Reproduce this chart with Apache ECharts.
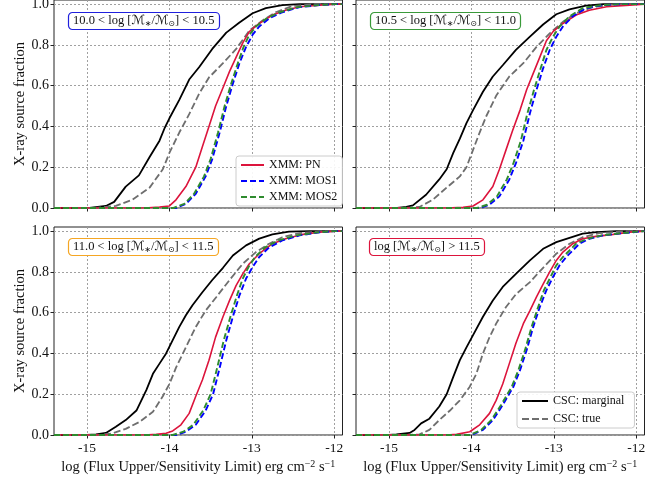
<!DOCTYPE html>
<html>
<head>
<meta charset="utf-8">
<script src="https://cdn.jsdelivr.net/npm/echarts@6/dist/echarts.min.js"></script>
<style>html,body{margin:0;padding:0;background:#fff;}#c{width:670px;height:479px;}</style>
</head>
<body>
<div id="c"></div>
<script>
// ---- data ----
const xTicks = [-15, -14, -13, -12];
const yTicks = [0, 0.2, 0.4, 0.6, 0.8, 1.0];
const seriesNames = ['CSC: marginal', 'CSC: true', 'XMM: PN', 'XMM: MOS1', 'XMM: MOS2'];
const panelLabels = [
  ['10.0', '10.5'],
  ['10.5', '11.0'],
  ['11.0', '11.5'],
  [null, '11.5']
];

// Panel 1: 10.0 < log M < 10.5
const p1Marginal = [[-15.4,0],[-14.97,0],[-14.77,0.01],[-14.67,0.03],[-14.53,0.105],[-14.37,0.16],[-14.24,0.25],[-14.12,0.33],[-14.06,0.39],[-14.0,0.44],[-13.88,0.53],[-13.76,0.63],[-13.64,0.69],[-13.48,0.78],[-13.31,0.86],[-13.15,0.91],[-12.99,0.955],[-12.83,0.98],[-12.63,0.995],[-12.42,1.0],[-11.9,1]];
const p1True = [[-15.4,0],[-14.9,0],[-14.65,0.01],[-14.45,0.04],[-14.24,0.1],[-14.08,0.19],[-14.0,0.27],[-13.88,0.37],[-13.76,0.46],[-13.64,0.56],[-13.52,0.64],[-13.35,0.71],[-13.19,0.78],[-13.03,0.87],[-12.87,0.92],[-12.71,0.96],[-12.51,0.99],[-12.22,1.0],[-11.9,1]];
const p1PN = [[-15.4,0],[-14.3,0],[-14.12,0.005],[-14.0,0.01],[-13.92,0.04],[-13.80,0.105],[-13.68,0.2],[-13.60,0.3],[-13.52,0.4],[-13.44,0.5],[-13.35,0.59],[-13.27,0.67],[-13.19,0.74],[-13.11,0.81],[-13.03,0.865],[-12.91,0.905],[-12.75,0.946],[-12.59,0.97],[-12.42,0.987],[-12.18,0.995],[-11.98,1.0],[-11.9,1]];
const p1MOS1 = [[-15.4,0],[-13.92,0],[-13.80,0.02],[-13.68,0.07],[-13.56,0.155],[-13.48,0.24],[-13.39,0.37],[-13.31,0.5],[-13.23,0.61],[-13.15,0.71],[-13.07,0.79],[-12.99,0.85],[-12.91,0.89],[-12.79,0.93],[-12.63,0.96],[-12.42,0.985],[-12.18,0.995],[-11.98,1.0],[-11.9,1]];
const p1MOS2 = [[-15.4,0],[-13.95,0],[-13.82,0.02],[-13.70,0.07],[-13.58,0.155],[-13.50,0.24],[-13.41,0.37],[-13.33,0.5],[-13.25,0.61],[-13.17,0.71],[-13.10,0.79],[-13.03,0.85],[-12.95,0.89],[-12.82,0.93],[-12.66,0.96],[-12.45,0.985],[-12.2,0.995],[-12.0,1.0],[-11.9,1]];

// Panel 2: 10.5 < log M < 11.0
const p2Marginal = [[-15.4,0],[-14.9,0],[-14.79,0.005],[-14.71,0.013],[-14.55,0.065],[-14.39,0.14],[-14.30,0.19],[-14.22,0.27],[-14.14,0.34],[-14.06,0.416],[-13.98,0.48],[-13.86,0.57],[-13.74,0.645],[-13.62,0.70],[-13.46,0.775],[-13.29,0.84],[-13.13,0.90],[-12.97,0.95],[-12.81,0.974],[-12.61,0.992],[-12.40,1.0],[-11.9,1]];
const p2True = [[-15.4,0],[-14.8,0],[-14.63,0.005],[-14.47,0.04],[-14.30,0.1],[-14.14,0.155],[-14.06,0.2],[-13.98,0.285],[-13.90,0.37],[-13.82,0.45],[-13.70,0.55],[-13.54,0.645],[-13.37,0.71],[-13.21,0.79],[-13.05,0.856],[-12.89,0.913],[-12.73,0.955],[-12.53,0.985],[-12.28,0.997],[-12.0,1.0],[-11.9,1]];
const p2PN = [[-15.4,0],[-14.3,0],[-14.10,0.003],[-13.98,0.01],[-13.86,0.04],[-13.74,0.105],[-13.66,0.19],[-13.58,0.285],[-13.50,0.38],[-13.41,0.48],[-13.33,0.58],[-13.25,0.66],[-13.17,0.74],[-13.09,0.82],[-13.01,0.865],[-12.89,0.905],[-12.73,0.946],[-12.57,0.97],[-12.36,0.987],[-12.08,0.995],[-11.9,1]];
const p2MOS1 = [[-15.4,0],[-13.90,0],[-13.78,0.016],[-13.66,0.057],[-13.54,0.14],[-13.46,0.22],[-13.37,0.33],[-13.29,0.465],[-13.21,0.58],[-13.13,0.685],[-13.05,0.775],[-12.97,0.84],[-12.89,0.89],[-12.77,0.94],[-12.61,0.98],[-12.40,0.995],[-12.16,1.0],[-11.9,1]];
const p2MOS2 = [[-15.4,0],[-13.93,0],[-13.81,0.016],[-13.69,0.057],[-13.57,0.14],[-13.49,0.22],[-13.40,0.33],[-13.32,0.465],[-13.24,0.58],[-13.16,0.685],[-13.09,0.775],[-13.01,0.84],[-12.93,0.89],[-12.81,0.94],[-12.65,0.98],[-12.43,0.995],[-12.19,1.0],[-11.9,1]];

// Panel 3: 11.0 < log M < 11.5
const p3Marginal = [[-15.4,0],[-15.0,0],[-14.89,0.003],[-14.77,0.01],[-14.65,0.04],[-14.53,0.073],[-14.40,0.12],[-14.28,0.22],[-14.20,0.30],[-14.12,0.35],[-14.04,0.40],[-13.96,0.465],[-13.88,0.53],[-13.80,0.587],[-13.72,0.636],[-13.60,0.70],[-13.48,0.76],[-13.35,0.82],[-13.23,0.88],[-13.07,0.93],[-12.91,0.963],[-12.75,0.984],[-12.55,0.997],[-12.3,1.0],[-11.9,1]];
const p3True = [[-15.4,0],[-14.85,0],[-14.69,0.008],[-14.53,0.03],[-14.36,0.065],[-14.20,0.114],[-14.08,0.19],[-14.00,0.25],[-13.92,0.33],[-13.80,0.43],[-13.68,0.53],[-13.56,0.61],[-13.43,0.677],[-13.27,0.76],[-13.11,0.84],[-12.95,0.897],[-12.79,0.938],[-12.63,0.97],[-12.42,0.99],[-12.18,0.998],[-11.9,1]];
const p3PN = [[-15.4,0],[-14.3,0],[-14.16,0.003],[-14.04,0.008],[-13.96,0.02],[-13.86,0.05],[-13.76,0.106],[-13.68,0.19],[-13.60,0.27],[-13.52,0.367],[-13.44,0.48],[-13.35,0.58],[-13.27,0.66],[-13.19,0.734],[-13.11,0.79],[-13.03,0.84],[-12.91,0.889],[-12.75,0.938],[-12.59,0.962],[-12.38,0.984],[-12.18,0.995],[-11.98,1.0],[-11.9,1]];
const p3MOS1 = [[-15.4,0],[-13.92,0],[-13.80,0.016],[-13.68,0.05],[-13.56,0.12],[-13.47,0.2],[-13.39,0.33],[-13.31,0.465],[-13.23,0.58],[-13.15,0.685],[-13.07,0.767],[-12.99,0.824],[-12.91,0.873],[-12.79,0.92],[-12.63,0.954],[-12.42,0.979],[-12.18,0.994],[-11.98,1.0],[-11.9,1]];
const p3MOS2 = [[-15.4,0],[-13.96,0],[-13.83,0.016],[-13.71,0.05],[-13.59,0.12],[-13.50,0.2],[-13.42,0.33],[-13.34,0.465],[-13.26,0.58],[-13.18,0.685],[-13.11,0.767],[-13.04,0.824],[-12.96,0.873],[-12.84,0.92],[-12.68,0.954],[-12.46,0.979],[-12.2,0.994],[-12.0,1.0],[-11.9,1]];

// Panel 4: log M > 11.5
const p4Marginal = [[-15.4,0],[-15.0,0],[-14.91,0.003],[-14.75,0.01],[-14.69,0.025],[-14.61,0.057],[-14.51,0.08],[-14.39,0.14],[-14.30,0.2],[-14.22,0.285],[-14.14,0.367],[-14.06,0.43],[-13.98,0.49],[-13.86,0.58],[-13.74,0.66],[-13.62,0.726],[-13.46,0.79],[-13.29,0.856],[-13.13,0.913],[-12.97,0.946],[-12.81,0.967],[-12.65,0.987],[-12.48,0.995],[-12.24,1.0],[-11.9,1]];
const p4True = [[-15.4,0],[-14.8,0],[-14.63,0.003],[-14.51,0.025],[-14.39,0.073],[-14.26,0.12],[-14.14,0.17],[-14.02,0.237],[-13.94,0.30],[-13.86,0.40],[-13.78,0.48],[-13.70,0.546],[-13.58,0.628],[-13.46,0.69],[-13.29,0.75],[-13.13,0.82],[-12.97,0.889],[-12.81,0.938],[-12.65,0.97],[-12.45,0.99],[-12.20,0.998],[-11.9,1]];
const p4PN = [[-15.4,0],[-14.3,0],[-14.18,0.003],[-14.02,0.016],[-13.90,0.05],[-13.78,0.106],[-13.70,0.17],[-13.62,0.25],[-13.54,0.35],[-13.46,0.45],[-13.37,0.546],[-13.29,0.61],[-13.21,0.677],[-13.13,0.74],[-13.05,0.8],[-12.97,0.856],[-12.89,0.897],[-12.77,0.938],[-12.65,0.962],[-12.49,0.974],[-12.28,0.984],[-12.08,0.995],[-11.9,1]];
const p4MOS1 = [[-15.4,0],[-14.0,0],[-13.86,0.025],[-13.74,0.073],[-13.62,0.147],[-13.49,0.237],[-13.41,0.318],[-13.33,0.416],[-13.25,0.53],[-13.17,0.628],[-13.09,0.71],[-13.01,0.775],[-12.93,0.832],[-12.85,0.873],[-12.77,0.905],[-12.69,0.938],[-12.57,0.962],[-12.40,0.979],[-12.16,0.99],[-11.95,0.998],[-11.9,1]];
const p4MOS2 = [[-15.4,0],[-14.02,0],[-13.88,0.025],[-13.76,0.073],[-13.64,0.147],[-13.51,0.237],[-13.43,0.318],[-13.35,0.416],[-13.27,0.53],[-13.19,0.628],[-13.12,0.71],[-13.04,0.775],[-12.97,0.832],[-12.89,0.873],[-12.81,0.905],[-12.73,0.938],[-12.60,0.962],[-12.42,0.979],[-12.18,0.99],[-11.96,0.998],[-11.9,1]];

const panels = [
  [p1Marginal, p1True, p1PN, p1MOS1, p1MOS2],
  [p2Marginal, p2True, p2PN, p2MOS1, p2MOS2],
  [p3Marginal, p3True, p3PN, p3MOS1, p3MOS2],
  [p4Marginal, p4True, p4PN, p4MOS1, p4MOS2]
];

// ---- styling ----
const FONT = '"Liberation Serif", "DejaVu Serif", serif';
const MFONT = '"DejaVu Sans", "DejaVu Serif", serif';
const lineStyles = [
  {color: '#000000', width: 1.8, type: 'solid'},
  {color: '#6e6e6e', width: 1.8, type: [7, 3]},
  {color: '#dc143c', width: 1.6, type: 'solid'},
  {color: '#0000ff', width: 1.9, type: [6, 3]},
  {color: '#2e8b2e', width: 1.9, type: [6, 3]}
];
const labelBorders = ['#2020dd', '#3a9a3a', '#f5a623', '#dc143c'];
const gridPos = [
  {left: 54, top: 0},
  {left: 356, top: 0},
  {left: 54, top: 227},
  {left: 356, top: 227}
];

const grids = gridPos.map(p => ({
  left: p.left, top: p.top, width: 288.5, height: 208,
  show: true, borderColor: '#222', borderWidth: 1, backgroundColor: 'transparent',
  containLabel: false, outerBoundsMode: 'none'
}));

const xAxes = gridPos.map((p, i) => ({
  type: 'value', gridIndex: i, min: -15.4, max: -11.9,
  axisLine: {show: false},
  axisTick: {show: true, inside: false, length: 3.5, lineStyle: {color: '#222', width: 1}, customValues: xTicks},
  axisLabel: {show: i >= 2, customValues: xTicks, margin: 6, color: '#111', fontFamily: FONT, fontSize: 13.5,
              formatter: v => String(v)},
  splitLine: {show: true, lineStyle: {color: '#a0a0a0', width: 1, type: [2, 2]}},
  name: i >= 2 ? 'log (Flux Upper/Sensitivity Limit) erg cm{sup|−2} s{sup|−1}' : '',
  nameLocation: 'middle', nameGap: 24,
  nameTextStyle: {color: '#111', fontFamily: FONT, fontSize: 14.5, lineHeight: 17,
    rich: {sup: {fontSize: 10, verticalAlign: 'top', lineHeight: 17, fontFamily: FONT, color: '#111'}}}
}));

const yAxes = gridPos.map((p, i) => ({
  type: 'value', gridIndex: i, min: 0, max: 1.02,
  axisLine: {show: false},
  axisTick: {show: true, inside: false, length: 3.5, lineStyle: {color: '#222', width: 1}, customValues: yTicks},
  axisLabel: {show: i % 2 === 0, customValues: yTicks, margin: 5, color: '#111', fontFamily: FONT, fontSize: 14,
              formatter: v => v.toFixed(1)},
  splitLine: {show: true, lineStyle: {color: '#a0a0a0', width: 1, type: [2, 2]}},
  name: i % 2 === 0 ? 'X-ray source fraction' : '',
  nameLocation: 'middle', nameRotate: 90, nameGap: 25,
  nameTextStyle: {color: '#111', fontFamily: FONT, fontSize: 14.5}
}));

const series = [];
panels.forEach((curves, pi) => {
  curves.forEach((data, si) => {
    series.push({
      type: 'line', name: seriesNames[si], xAxisIndex: pi, yAxisIndex: pi,
      data: data, symbol: 'none', showSymbol: false, smooth: false, animation: false,
      lineStyle: lineStyles[si], itemStyle: {color: lineStyles[si].color},
      z: 2 + si, silent: true, clip: true
    });
  });
});

const rich = {
  n: {fontFamily: FONT, fontSize: 12.5, color: '#111', lineHeight: 15, verticalAlign: 'middle'},
  m: {fontFamily: MFONT, fontSize: 12.5, color: '#111', lineHeight: 15, verticalAlign: 'middle'},
  s: {fontFamily: MFONT, fontSize: 8, color: '#111', lineHeight: 15, verticalAlign: 'bottom', padding: [5, 0, 0, 0]}
};
function labelText(lo, hi) {
  const core = '{n|log [}{m|ℳ}{s|∗}{n|/}{m|ℳ}{s|⊙}{n|]}';
  if (lo === null) return core + '{n| > ' + hi + '}';
  return '{n|' + lo + ' < }' + core + '{n| < ' + hi + '}';
}
const titlePos = [
  {left: 68, top: 11},
  {left: 370, top: 11},
  {left: 68, top: 237},
  {left: 369, top: 237}
];
const titles = panelLabels.map((lab, i) => ({
  text: labelText(lab[0], lab[1]),
  left: titlePos[i].left, top: titlePos[i].top,
  padding: [2, 5, 2, 5],
  backgroundColor: '#ffffff', borderColor: labelBorders[i], borderWidth: 1.2, borderRadius: 4,
  textStyle: {fontFamily: FONT, fontSize: 12.5, fontWeight: 'normal', color: '#111', rich: rich}
}));

const legendCommon = {
  orient: 'vertical', itemWidth: 23, itemHeight: 10, selectedMode: false,
  itemStyle: {opacity: 0, borderWidth: 0},
  backgroundColor: 'rgba(255,255,255,0.9)', borderColor: '#cccccc', borderWidth: 1, borderRadius: 3,
  textStyle: {fontFamily: FONT, fontSize: 12, color: '#111'}
};
const legends = [
  Object.assign({}, legendCommon, {data: seriesNames.slice(2), left: 236, top: 156, itemGap: 4, padding: [3, 5, 3, 4]}),
  Object.assign({}, legendCommon, {data: seriesNames.slice(0, 2), left: 517, top: 392, itemGap: 6, padding: [3, 10, 3, 4], itemWidth: 26})
];

const chart = echarts.init(document.getElementById('c'), null, {renderer: 'canvas'});
chart.setOption({
  animation: false,
  backgroundColor: '#ffffff',
  textStyle: {fontFamily: FONT},
  title: titles,
  legend: legends,
  grid: grids,
  xAxis: xAxes,
  yAxis: yAxes,
  series: series
});
</script>
</body>
</html>
